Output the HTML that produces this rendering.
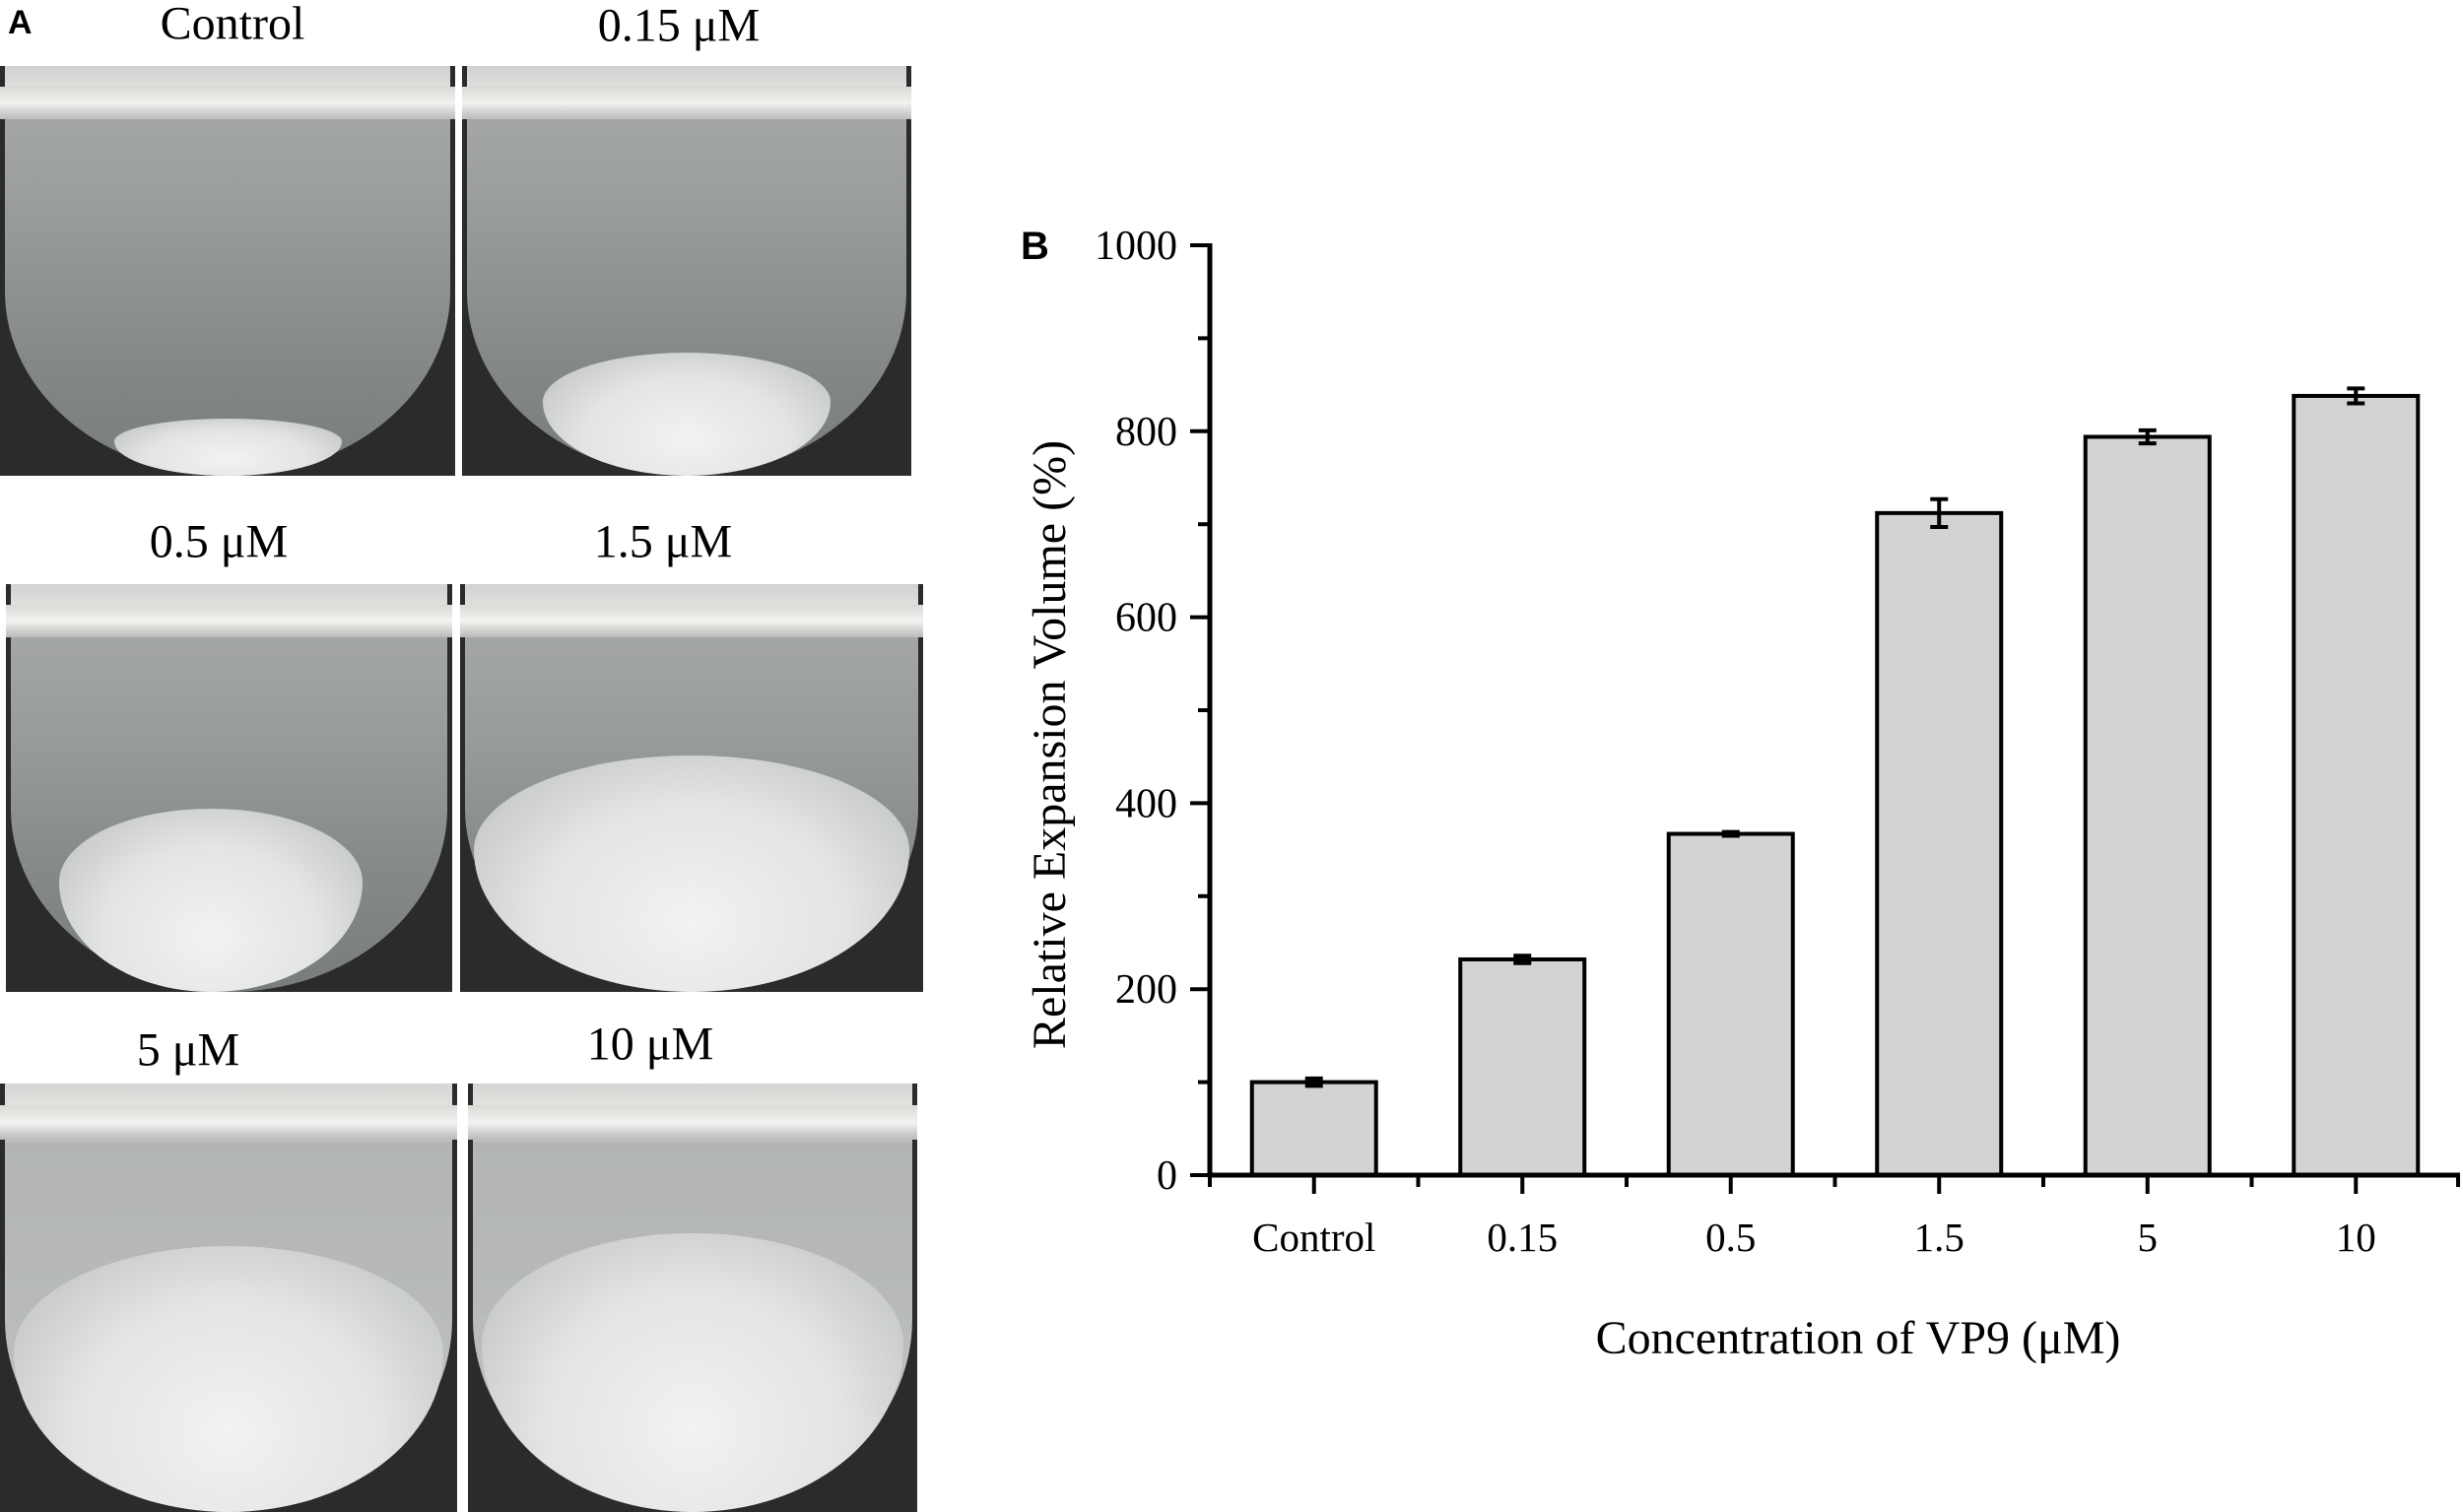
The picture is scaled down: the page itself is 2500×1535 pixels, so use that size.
<!DOCTYPE html>
<html><head><meta charset="utf-8"><style>
body{margin:0;background:#fff;width:2500px;height:1535px;position:relative;overflow:hidden;font-family:"Liberation Serif",serif}
.lbl{position:absolute;font-size:48px;transform:translate(-50%,-50%);white-space:nowrap}
.ph{position:absolute;overflow:hidden;background:#2b2b2b}
.bowl{position:absolute;left:1%;right:1%;top:0;bottom:0;border-radius:0 0 50% 50% / 0 0 45% 45%;background:linear-gradient(180deg,#cfd2cf 0%,#e6e8e4 8%,#a4a7a6 12%,#979a9a 40%,#858989 70%,#787c7c 100%)}
.rim{position:absolute;left:0;right:0;top:5%;height:8%;background:linear-gradient(180deg,#d8dad6,#f2f3f0 50%,#b8bbb8)}
.flock{position:absolute;left:8%;right:8%;bottom:0;border-radius:50% 50% 50% 50% / 40% 40% 60% 60%;background:radial-gradient(ellipse at 50% 70%,#f2f3f1 0%,#e3e5e3 50%,#c9cccb 80%,rgba(200,203,202,0) 100%)}
</style></head><body>
<div style="position:absolute;left:8px;top:4px;font:bold 34px 'Liberation Sans',sans-serif">A</div>
<div class="lbl" style="left:236px;top:24px">Control</div>
<div class="lbl" style="left:689px;top:26px">0.15 μM</div>
<div class="lbl" style="left:222px;top:550px">0.5 μM</div>
<div class="lbl" style="left:673px;top:550px">1.5 μM</div>
<div class="lbl" style="left:191px;top:1066px">5 μM</div>
<div class="lbl" style="left:660px;top:1060px">10 μM</div>

<div class="ph" style="left:0;top:67px;width:462px;height:416px"><div class="bowl"></div><div class="rim"></div><div class="flock" style="height:14%;left:25%;right:25%"></div></div>
<div class="ph" style="left:469px;top:67px;width:456px;height:416px"><div class="bowl"></div><div class="rim"></div><div class="flock" style="height:30%;left:18%;right:18%"></div></div>
<div class="ph" style="left:6px;top:593px;width:453px;height:414px"><div class="bowl"></div><div class="rim"></div><div class="flock" style="height:45%;left:12%;right:20%"></div></div>
<div class="ph" style="left:467px;top:593px;width:470px;height:414px"><div class="bowl"></div><div class="rim"></div><div class="flock" style="height:58%;left:3%;right:3%"></div></div>
<div class="ph" style="left:0;top:1100px;width:464px;height:435px"><div class="bowl" style="background:linear-gradient(180deg,#d4d6d3 0%,#eceeeb 10%,#b2b5b4 14%,#b7bab9 50%,#c6c9c8 100%)"></div><div class="rim"></div><div class="flock" style="height:62%;left:3%;right:3%"></div></div>
<div class="ph" style="left:475px;top:1100px;width:456px;height:435px"><div class="bowl" style="background:linear-gradient(180deg,#d4d6d3 0%,#eceeeb 10%,#b2b5b4 14%,#b7bab9 50%,#c6c9c8 100%)"></div><div class="rim"></div><div class="flock" style="height:65%;left:3%;right:3%"></div></div>

<svg id="chart" width="2500" height="1535" style="position:absolute;left:0;top:0"></svg>
<script>
const categories=["Control","0.15","0.5","1.5","5","10"];
const values=[100,232,367,712,794,838];
const errors=[4,4,2,15,7,8];
const yTicks=[0,200,400,600,800,1000];
const yMinor=[100,300,500,700,900];
const x0=1228,x1=2497,y0=1193,yTop=249,yMax=1000;
const band=(x1-x0)/categories.length;
const X=i=>x0+band*(i+0.5);
const Y=v=>y0-(v/yMax)*(y0-yTop);
const svg=document.getElementById('chart');
const NS="http://www.w3.org/2000/svg";
function mk(t,a){const e=document.createElementNS(NS,t);for(const k in a)e.setAttribute(k,a[k]);svg.appendChild(e);return e;}
const bw=126;
categories.forEach((c,i)=>{
 const r=mk('rect',{x:X(i)-bw/2,y:Y(values[i]),width:bw,height:y0-Y(values[i]),fill:'#d3d3d3',stroke:'#000','stroke-width':4});
 
 
 const e=mk('path',{d:`M${X(i)-9},${Y(values[i]+errors[i])}H${X(i)+9}M${X(i)},${Y(values[i]+errors[i])}V${Y(values[i]-errors[i])}M${X(i)-9},${Y(values[i]-errors[i])}H${X(i)+9}`,stroke:'#000','stroke-width':4,fill:'none'});
 
 
 const t=mk('text',{x:X(i),y:1270,'text-anchor':'middle','font-size':41,'font-family':'Liberation Serif, serif'});
 t.textContent=c;
 
 
 mk('line',{x1:X(i),x2:X(i),y1:y0,y2:y0+19,stroke:'#000','stroke-width':4});
 mk('line',{x1:x0+band*i,x2:x0+band*i,y1:y0,y2:y0+12,stroke:'#000','stroke-width':4});
});
mk('line',{x1:x1-2,x2:x1-2,y1:y0,y2:y0+12,stroke:'#000','stroke-width':4});
yTicks.forEach(v=>{
 mk('line',{x1:x0-20,x2:x0,y1:Y(v),y2:Y(v),stroke:'#000','stroke-width':4});
 const t=mk('text',{x:1195,y:Y(v)+14,'text-anchor':'end','font-size':42,'font-family':'Liberation Serif, serif'});
 t.textContent=v;
 
 
});
yMinor.forEach(v=>mk('line',{x1:x0-12,x2:x0,y1:Y(v),y2:Y(v),stroke:'#000','stroke-width':4}));
const ax=mk('path',{d:`M${x0},${yTop-2}V${y0}H${x1}`,stroke:'#000','stroke-width':5,fill:'none'});


const yt=mk('text',{x:0,y:0,transform:'translate(1081,756) rotate(-90)','text-anchor':'middle','font-size':48,'font-family':'Liberation Serif, serif'});
yt.textContent='Relative Expansion Volume (%)';


const xt=mk('text',{x:1886,y:1374,'text-anchor':'middle','font-size':48,'font-family':'Liberation Serif, serif'});
xt.textContent='Concentration of VP9 (μM)';


const b=mk('text',{x:1036,y:263,'font-size':40,'font-weight':'bold','font-family':'Liberation Sans, sans-serif'});
b.textContent='B';


</script>
</body></html>
